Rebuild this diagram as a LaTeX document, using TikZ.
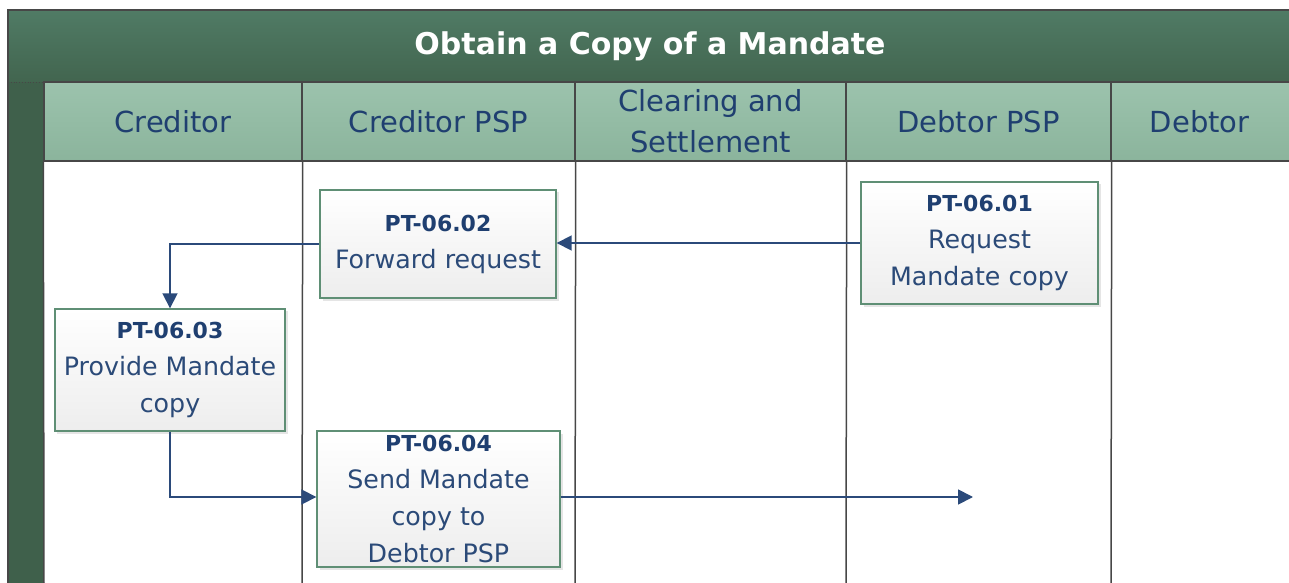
\documentclass[tikz,border=0pt]{standalone}
\usepackage{fontspec}
\setmainfont{DejaVu Sans}
\usetikzlibrary{arrows.meta,shadows,calc}
\definecolor{titleTop}{HTML}{507B65}
\definecolor{titleBot}{HTML}{42654F}
\definecolor{hdrTop}{HTML}{9CC3AD}
\definecolor{hdrBot}{HTML}{8BB49C}
\definecolor{laneLine}{HTML}{474747}
\definecolor{hdrText}{HTML}{1F3F70}
\definecolor{boxText}{HTML}{2B4A78}
\definecolor{boxEdge}{HTML}{5F8F75}
\definecolor{flow}{HTML}{2B4A7A}
\tikzset{
  hdrcell/.style={draw=laneLine, line width=1.4bp, top color=hdrTop, bottom color=hdrBot, inner sep=0pt,
    text=hdrText, font=\fontsize{29bp}{41bp}\selectfont, align=center},
  taskbox/.style={draw=boxEdge, line width=1.4bp, top color=white, bottom color=black!7, inner sep=0pt,
    text=boxText, font=\fontsize{25.3bp}{37bp}\selectfont, align=center,
    drop shadow={shadow xshift=2.5bp, shadow yshift=-2.5bp, opacity=0.25, fill=black!40}},
  flowline/.style={draw=flow, line width=1.8bp, -{Triangle[length=15bp,width=15bp]}},
  lane/.style={draw=laneLine, line width=1.5bp}
}
\newcommand{\tid}[1]{{\bfseries\fontsize{22bp}{37bp}\selectfont\color{hdrText}#1}}
\begin{document}
\begin{tikzpicture}[x=1bp,y=-1bp]
\useasboundingbox (0,0) rectangle (1289,583);
% outer title band
\shade[top color=titleTop, bottom color=titleBot] (8,10) rectangle (1289,82);
\fill[titleBot!95!black] (8,82) rectangle (44,583);
\draw[laneLine, line width=1.4bp] (1289,10) -- (8,10) -- (8,583);
\draw[laneLine, line width=0.8bp, dotted] (8,82) -- (44,82);
\node[text=white, font=\bfseries\fontsize{30bp}{36bp}\selectfont] (title) at (650,46) {Obtain a Copy of a Mandate};
% lane bodies
\fill[white] (44,161) rectangle (1289,583);
% header cells
\node[hdrcell, minimum width=258bp, minimum height=79bp] (h1) at (173,121.5) {Creditor};
\node[hdrcell, minimum width=273bp, minimum height=79bp] (h2) at (438.5,121.5) {Creditor PSP};
\node[hdrcell, minimum width=271bp, minimum height=79bp] (h3) at (710.5,121.5) {Clearing and\\Settlement};
\node[hdrcell, minimum width=265bp, minimum height=79bp] (h4) at (978.5,121.5) {Debtor PSP};
\node[hdrcell, minimum width=190bp, minimum height=79bp, anchor=west] (h5) at (1111,121.5) {\hspace*{26bp}Debtor\hspace*{40bp}};
% lane lines
\draw[lane] (h1.south west) -- (44,583);
\draw[lane] (h1.south east) -- (302,583);
\draw[lane] (h2.south east) -- (575,583);
\draw[lane] (h3.south east) -- (846,583);
\draw[lane] (h4.south east) -- (1111,583);
% task boxes
\node[taskbox, minimum width=236bp, minimum height=108bp] (b02) at (438,244) {\tid{PT-06.02}\\Forward request};
\node[taskbox, minimum width=237bp, minimum height=122bp] (b01) at (979.5,243) {\tid{PT-06.01}\\Request\\Mandate copy};
\node[taskbox, minimum width=230bp, minimum height=122bp] (b03) at (170,370) {\tid{PT-06.03}\\Provide Mandate\\copy};
\node[taskbox, minimum width=243bp, minimum height=136bp] (b04) at (438.5,499) {\tid{PT-06.04}\\Send Mandate\\copy to\\Debtor PSP};
% connectors
\coordinate (e) at (973,497);
\draw[flowline] (b01.west) -- (b01.west -| b02.east);
\draw[flowline] (b02.west) -| (b03.north);
\draw[flowline] (b03.south) |- ($(b04.west)+(0,-2)$);
\draw[flowline] ($(b04.east)+(0,-2)$) -- (e);
\end{tikzpicture}
\end{document}
